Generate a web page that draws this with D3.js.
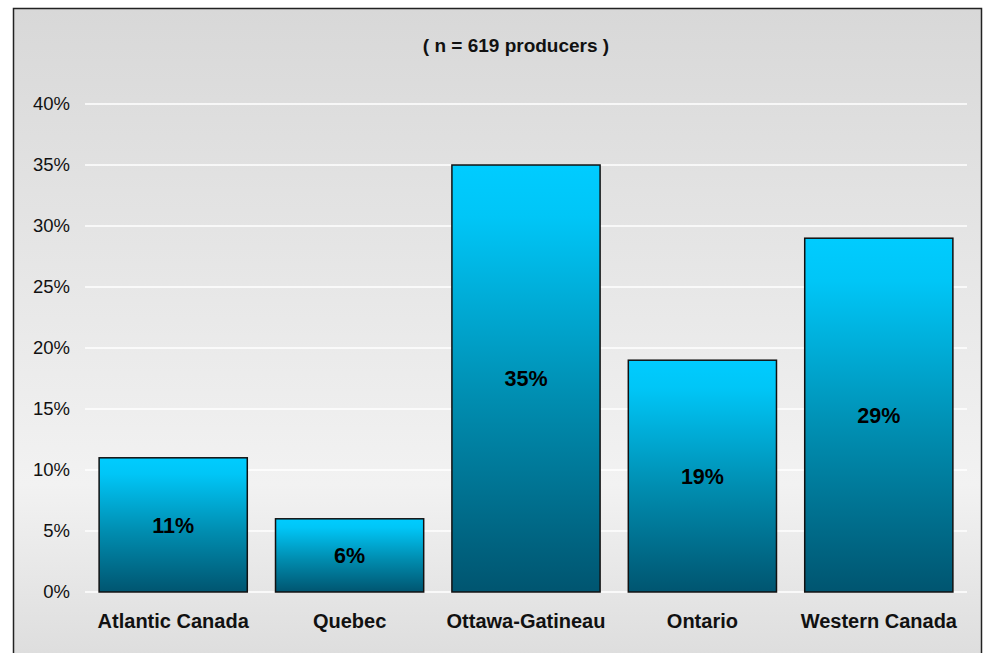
<!DOCTYPE html>
<html>
<head>
<meta charset="utf-8">
<script src="https://cdn.jsdelivr.net/npm/d3@7"></script>
<style>
  html, body { margin: 0; padding: 0; background: #ffffff; }
  svg { display: block; font-family: "Liberation Sans", Arial, sans-serif; }
</style>
</head>
<body>
<svg id="chart" width="985" height="653"></svg>
<script>
// Regional distribution of producers
const categories = ["Atlantic Canada", "Quebec", "Ottawa-Gatineau", "Ontario", "Western Canada"];
const shares = [11, 6, 35, 19, 29];
const tickValues = [0, 5, 10, 15, 20, 25, 30, 35, 40];
const subtitle = "( n = 619 producers )";

const W = 985, H = 653;
const svg = d3.select("#chart");
const defs = svg.append("defs");

// panel background: grey at the top, lighter near the base of the plot
const bg = defs.append("linearGradient").attr("id", "bgGrad")
  .attr("x1", 0).attr("y1", 0).attr("x2", 0).attr("y2", 1);
bg.append("stop").attr("offset", "0%").attr("stop-color", "#d8d8d8");
bg.append("stop").attr("offset", "72%").attr("stop-color", "#f2f2f2");
bg.append("stop").attr("offset", "100%").attr("stop-color", "#dcdcdc");

// bar fill: bright cyan on top fading to dark teal at the base
const bar = defs.append("linearGradient").attr("id", "barGrad")
  .attr("x1", 0).attr("y1", 0).attr("x2", 0).attr("y2", 1);
bar.append("stop").attr("offset", "0%").attr("stop-color", "#00ccff");
bar.append("stop").attr("offset", "12%").attr("stop-color", "#00c6f7");
bar.append("stop").attr("offset", "55%").attr("stop-color", "#008db0");
bar.append("stop").attr("offset", "100%").attr("stop-color", "#005570");

// outer frame
svg.append("rect")
  .attr("x", 13.5).attr("y", 8.5)
  .attr("width", 968).attr("height", 660)
  .attr("fill", "url(#bgGrad)")
  .attr("stroke", "#222").attr("stroke-width", 1.5);

// title
svg.append("text")
  .attr("x", 516).attr("y", 52)
  .attr("text-anchor", "middle")
  .attr("font-weight", "bold").attr("font-size", 19)
  .attr("fill", "#111")
  .text(subtitle);

const margin = { left: 85, right: 18, top: 104, bottom: 61 };
const x = d3.scaleBand()
  .domain(categories)
  .range([margin.left, W - margin.right])
  .paddingInner(0.16)
  .paddingOuter(0.08);

const y = d3.scaleLinear()
  .domain([0, 40])
  .range([592, 104]);

// gridlines
svg.append("g")
  .selectAll("line")
  .data(tickValues)
  .join("line")
  .attr("x1", margin.left).attr("x2", W - margin.right)
  .attr("y1", d => y(d)).attr("y2", d => y(d))
  .attr("stroke", "#ffffff").attr("stroke-width", 1.5);

// y axis labels
const yAxis = d3.axisLeft(y)
  .tickValues(tickValues)
  .tickFormat(d => d + "%")
  .tickSize(0)
  .tickPadding(0);
const yG = svg.append("g")
  .attr("transform", `translate(${margin.left - 15},0)`)
  .call(yAxis);
yG.select(".domain").remove();
yG.selectAll("text")
  .attr("font-family", "Liberation Sans, Arial, sans-serif")
  .attr("font-size", 18.5)
  .attr("fill", "#111");

// bars
svg.append("g")
  .selectAll("rect")
  .data(shares)
  .join("rect")
  .attr("x", (d, i) => x(categories[i]))
  .attr("y", d => y(d))
  .attr("width", x.bandwidth())
  .attr("height", d => y(0) - y(d))
  .attr("fill", "url(#barGrad)")
  .attr("stroke", "#111").attr("stroke-width", 1.5);

// value labels centred in each bar
svg.append("g")
  .selectAll("text")
  .data(shares)
  .join("text")
  .attr("x", (d, i) => x(categories[i]) + x.bandwidth() / 2)
  .attr("y", d => (y(d) + y(0)) / 2)
  .attr("dy", "0.36em")
  .attr("text-anchor", "middle")
  .attr("font-weight", "bold").attr("font-size", 21.5)
  .attr("fill", "#000")
  .text(d => d + "%");

// category labels
const xAxis = d3.axisBottom(x).tickSize(0).tickPadding(0);
const xG = svg.append("g")
  .attr("transform", `translate(0,${y(0) + 22})`)
  .call(xAxis);
xG.select(".domain").remove();
xG.selectAll("text")
  .attr("font-family", "Liberation Sans, Arial, sans-serif")
  .attr("font-weight", "bold")
  .attr("font-size", 20)
  .attr("fill", "#111");
</script>
</body>
</html>
